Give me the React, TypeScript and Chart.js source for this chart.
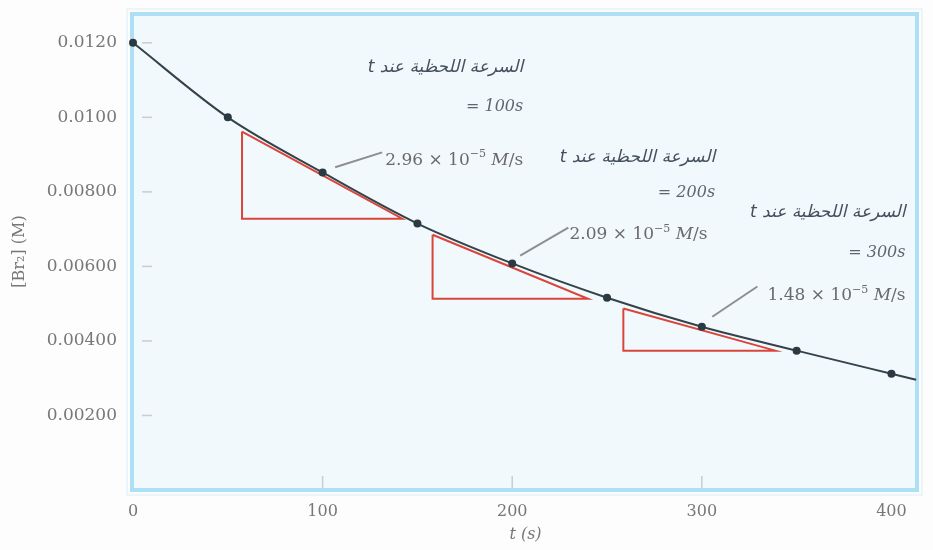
import React, { useEffect, useRef } from "react";
import { Chart, registerables } from "chart.js";

Chart.register(...registerables);

// ---- data ----
const timeS = [0, 50, 100, 150, 200, 250, 300, 350, 400, 413];
const br2M = [0.012, 0.01, 0.00852, 0.00715, 0.00608, 0.00516, 0.00438, 0.00374, 0.00312, 0.00296];
const isMeasured = [true, true, true, true, true, true, true, true, true, false];

const xTickValues = [0, 100, 200, 300, 400];
const xTickLabels = ["0", "100", "200", "300", "400"];
const yTickValues = [0.002, 0.004, 0.006, 0.008, 0.01, 0.012];
const yTickLabels = ["0.00200", "0.00400", "0.00600", "0.00800", "0.0100", "0.0120"];

// tangent triangles (t, [Br2]) : top, bottom-left, bottom-right, back to top
const tangent1T = [57.5, 57.5, 142, 57.5];
const tangent1C = [0.00962, 0.00728, 0.00728, 0.00962];
const tangent2T = [158, 158, 240, 158];
const tangent2C = [0.00685, 0.00513, 0.00513, 0.00685];
const tangent3T = [258.6, 258.6, 338.8, 258.6];
const tangent3C = [0.00487, 0.00374, 0.00374, 0.00487];

// leader lines from the tangent to the label
const leader1T = [106.6, 131.4];
const leader1C = [0.00866, 0.00906];
const leader2T = [204.2, 229.6];
const leader2C = [0.00629, 0.00704];
const leader3T = [305.5, 329.3];
const leader3C = [0.00465, 0.00546];

// annotation texts
const arabicLabel = "السرعة اللحظية عند t";
const atTimes = ["= 100s", "= 200s", "= 300s"];
const rateMantissa = ["2.96", "2.09", "1.48"];
const rateExponent = "−5";

// annotation anchors in data space (right edge t, vertical [Br2])
const noteRightT = [205.8, 307, 407.4];
const rateRightT = [205.8, 303, 407.4];
const noteArabicC = [0.01134, 0.00892, 0.00745];
const noteEqC = [0.01027, 0.00798, 0.00637];
const noteRateC = [0.00884, 0.00685, 0.00521];

const toXY = (ts: number[], cs: number[]) => ts.map((t, i) => ({ x: t, y: cs[i] }));

const SERIF = "'DejaVu Serif', 'DejaVu Sans', serif";

type Run = { text: string; font: string; dy?: number };

function drawRunsRight(ctx: CanvasRenderingContext2D, runs: Run[], xRight: number, y: number) {
  const widths = runs.map((r) => {
    ctx.font = r.font;
    return ctx.measureText(r.text).width;
  });
  const total = widths.reduce((a, b) => a + b, 0);
  let x = xRight - total;
  ctx.textAlign = "left";
  ctx.textBaseline = "middle";
  runs.forEach((r, i) => {
    ctx.font = r.font;
    ctx.fillText(r.text, x, y + (r.dy || 0));
    x += widths[i];
  });
}

const framePlugin = {
  id: "frame",
  beforeDraw(chart: any) {
    const { ctx, chartArea, width, height } = chart;
    ctx.save();
    ctx.fillStyle = "#fdfdfd";
    ctx.fillRect(0, 0, width, height);
    ctx.fillStyle = "#f2f9fc";
    ctx.fillRect(chartArea.left, chartArea.top, chartArea.right - chartArea.left, chartArea.bottom - chartArea.top);
    ctx.restore();
  },
  beforeDatasetsDraw(chart: any) {
    const { ctx, chartArea, scales } = chart;
    ctx.save();
    // faint inner tick marks
    ctx.strokeStyle = "rgba(150,150,150,0.45)";
    ctx.lineWidth = 1.5;
    yTickValues.forEach((v) => {
      const y = scales.y.getPixelForValue(v);
      ctx.beginPath();
      ctx.moveTo(chartArea.left + 9, y);
      ctx.lineTo(chartArea.left + 19, y);
      ctx.stroke();
    });
    xTickValues.slice(1, 4).forEach((v) => {
      const x = scales.x.getPixelForValue(v);
      ctx.beginPath();
      ctx.moveTo(x, chartArea.bottom - 14);
      ctx.lineTo(x, chartArea.bottom);
      ctx.stroke();
    });
    // blue frame
    ctx.strokeStyle = "#ade0f5";
    ctx.lineWidth = 4;
    ctx.strokeRect(chartArea.left - 1, chartArea.top + 1, chartArea.right - chartArea.left, chartArea.bottom - chartArea.top - 1);
    ctx.strokeStyle = "rgba(190,225,245,0.5)";
    ctx.lineWidth = 1;
    ctx.strokeRect(chartArea.left - 6, chartArea.top - 4, chartArea.right - chartArea.left + 10, chartArea.bottom - chartArea.top + 9);
    ctx.restore();
  },
  afterDatasetsDraw(chart: any) {
    const { ctx, scales } = chart;
    const xs = scales.x;
    const ys = scales.y;
    ctx.save();
    for (let i = 0; i < 3; i++) {
      // Arabic heading
      ctx.save();
      ctx.direction = "rtl";
      ctx.textAlign = "right";
      ctx.textBaseline = "middle";
      ctx.fillStyle = "#44505e";
      ctx.font = "italic 17px 'DejaVu Sans', sans-serif";
      const xr = xs.getPixelForValue(noteRightT[i]);
      ctx.fillText(arabicLabel, xr, ys.getPixelForValue(noteArabicC[i]));
      ctx.restore();

      ctx.fillStyle = "#5e6670";
      drawRunsRight(ctx, [{ text: atTimes[i], font: `italic 16px ${SERIF}` }], xr, ys.getPixelForValue(noteEqC[i]));

      ctx.fillStyle = "#6a6a6a";
      drawRunsRight(
        ctx,
        [
          { text: `${rateMantissa[i]} × 10`, font: `17px ${SERIF}` },
          { text: rateExponent, font: `11px ${SERIF}`, dy: -6 },
          { text: " M", font: `italic 17px ${SERIF}` },
          { text: "/s", font: `17px ${SERIF}` },
        ],
        xs.getPixelForValue(rateRightT[i]),
        ys.getPixelForValue(noteRateC[i])
      );
    }
    ctx.restore();
  },
};

export default function App() {
  const canvasRef = useRef<HTMLCanvasElement | null>(null);

  useEffect(() => {
    if (!canvasRef.current) return;
    const red = "#d9453a";
    const gray = "#8e8e8e";
    const triangle = (ts: number[], cs: number[]) => ({
      data: toXY(ts, cs),
      showLine: true,
      borderColor: red,
      borderWidth: 2,
      pointRadius: 0,
      tension: 0,
      fill: false,
      order: 2,
      clip: 6,
    });
    const leader = (ts: number[], cs: number[]) => ({
      data: toXY(ts, cs),
      showLine: true,
      borderColor: gray,
      borderWidth: 2,
      pointRadius: 0,
      tension: 0,
      fill: false,
      order: 3,
    });
    const chart = new Chart(canvasRef.current, {
      type: "scatter",
      data: {
        datasets: [
          {
            data: toXY(timeS, br2M),
            showLine: true,
            borderColor: "#33434b",
            borderWidth: 2,
            backgroundColor: "#2b3a42",
            pointBackgroundColor: "#2b3a42",
            pointBorderWidth: 0,
            pointRadius: isMeasured.map((m) => (m ? 4 : 0)),
            cubicInterpolationMode: "monotone",
            fill: false,
            order: 1,
            clip: 8,
          } as any,
          triangle(tangent1T, tangent1C),
          triangle(tangent2T, tangent2C),
          triangle(tangent3T, tangent3C),
          leader(leader1T, leader1C),
          leader(leader2T, leader2C),
          leader(leader3T, leader3C),
        ],
      },
      options: {
        animation: false,
        responsive: false,
        devicePixelRatio: 1,
        events: [],
        layout: { padding: { left: 0, top: 13, right: 15, bottom: 0 } },
        plugins: {
          legend: { display: false },
          tooltip: { enabled: false },
        },
        scales: {
          x: {
            type: "linear",
            min: 0,
            max: 414,
            grid: { display: false, drawTicks: false },
            border: { display: false },
            afterBuildTicks: (scale: any) => {
              scale.ticks = xTickValues.map((v) => ({ value: v }));
            },
            afterFit: (scale: any) => {
              scale.height = 60;
              scale.paddingLeft = 0;
              scale.paddingRight = 0;
              scale.paddingTop = 0;
              scale.paddingBottom = 0;
            },
            ticks: {
              padding: 12,
              color: "#777",
              font: { family: SERIF, size: 16 },
              maxRotation: 0,
              callback: (v: any) => {
                const i = xTickValues.indexOf(Number(v));
                return i >= 0 ? xTickLabels[i] : "";
              },
            },
            title: {
              display: true,
              text: "t (s)",
              color: "#777",
              font: { family: SERIF, size: 16, style: "italic" },
              padding: { top: 0, bottom: 6 },
            },
          },
          y: {
            type: "linear",
            min: 0,
            max: 0.0128,
            grid: { display: false, drawTicks: false },
            border: { display: false },
            afterBuildTicks: (scale: any) => {
              scale.ticks = yTickValues.map((v) => ({ value: v }));
            },
            afterFit: (scale: any) => {
              scale.width = 133;
              scale.paddingLeft = 0;
              scale.paddingRight = 0;
              scale.paddingTop = 0;
              scale.paddingBottom = 0;
            },
            ticks: {
              padding: 16,
              color: "#777",
              font: { family: SERIF, size: 17 },
              callback: (v: any) => {
                const i = yTickValues.findIndex((t) => Math.abs(t - Number(v)) < 1e-9);
                return i >= 0 ? yTickLabels[i] : "";
              },
            },
            title: {
              display: true,
              text: "[Br₂] (M)",
              color: "#777",
              font: { family: SERIF, size: 16 },
              padding: { top: 10, bottom: 0 },
            },
          },
        },
      },
      plugins: [framePlugin],
    });
    return () => chart.destroy();
  }, []);

  return (
    <div style={{ position: "absolute", left: 0, top: 0, width: 933, height: 550, background: "#fdfdfd" }}>
      <canvas ref={canvasRef} width={933} height={550} style={{ width: 933, height: 550, display: "block" }} />
    </div>
  );
}
